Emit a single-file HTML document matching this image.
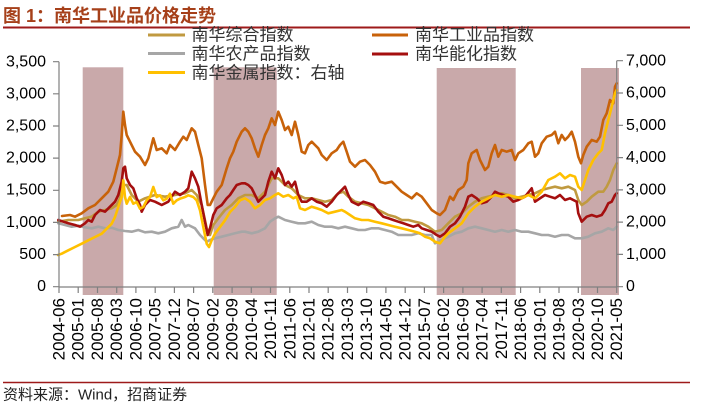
<!DOCTYPE html>
<html><head><meta charset="utf-8"><style>
html,body{margin:0;padding:0;background:#fff;}
svg{display:block;}
</style></head><body>
<svg width="703" height="414" viewBox="0 0 703 414" xmlns="http://www.w3.org/2000/svg" font-family="'Liberation Sans','Noto Sans CJK SC',sans-serif">
<rect x="0" y="0" width="703" height="414" fill="#fff"/>
<text x="3" y="22" font-size="18" font-weight="bold" fill="#a6401a" font-family="'Liberation Sans','Noto Sans CJK SC',sans-serif">图 1：南华工业品价格走势</text>
<line x1="3" y1="27.5" x2="690" y2="27.5" stroke="#9e1a1a" stroke-width="2"/>
<!-- shading -->
<g fill="#c9a9aa">
<rect x="82.7" y="67.3" width="40.6" height="227.7"/>
<rect x="213.7" y="67.3" width="63" height="227.7"/>
<rect x="436.7" y="68" width="79" height="227"/>
<rect x="581" y="68" width="38" height="227"/>
</g>
<!-- series -->
<g fill="none" stroke-width="2.6" stroke-linejoin="round" stroke-linecap="round">
<polyline stroke="#c09a40" points="58.3,221.7 68.3,220 78.3,220 85,218.3 91.7,216.7 98.3,211.7 105,210 111.7,208.3 116.7,205 120,198.3 123.3,185 126.7,185 131.7,195 138.3,201.7 145,198.3 155,195 165,196.7 175,195 185,193.3 191.7,190 196.7,195 201.7,205 206.7,228.3 210,235 213.3,225 218.3,218.3 225,210 231.7,205 238.3,198.3 245,195 251.7,195 258.3,198.3 265,191.7 271.7,178.3 278.3,178.3 285,185 291.7,188.3 298.3,195 305,198.3 311.7,198.3 318.3,200 325,201.7 331.7,200 338.3,193.3 343.3,191.7 348.3,196.7 355,201.7 361.7,203.3 368.3,205 375,208.3 381.7,211.7 388.3,215 395,216.7 401.7,220 408.3,220 415,221.7 421.7,223.3 428.3,226.7 435,231.7 441.7,230 448.3,223.3 455,216.7 461.7,213.3 468.3,206.7 475,201.7 481.7,198.3 488.3,196.7 495,195 501.7,193.3 508.3,195 515,198.3 521.7,196.7 528.3,195 535,193.3 541.7,190 548.3,188.3 555,186.7 561.7,188.3 568.3,186.7 575,190 578.3,200 581.7,205 586.7,201.7 591.7,196.7 598.3,191.7 603.3,191.7 606.7,186.7 610,180 613.3,170 616.7,163.3"/>
<polyline stroke="#c8620a" points="62,216 70,215 75,216.7 81.7,213.3 88.3,208.3 95,205 101.7,198.3 108.3,191.7 113.3,181.7 116.7,168.3 120,155 121.7,135 123.3,111.7 125,125 126.7,135 130,141.7 135,151.7 140,156.7 145,165 148.3,158.3 153.3,138.3 156.7,150 161.7,148.3 166.7,153.3 170,145 175,150 180,141.7 183.3,136.7 186.7,140 191.7,128.3 195,131.7 198.3,145 201.7,158.3 205,185 207.7,205 210,205 213.3,198.3 216.7,191.7 221.7,185 226.7,168.3 230,158.3 233.3,151.7 236.7,141.7 241.7,131.7 245,128.3 248.3,131.7 251.7,138.3 255,148.3 258.3,156.7 261.7,145 265,135 268.3,128.3 271.7,118.3 275,125 278.3,111.7 281.7,120 285,130 288.3,126.7 291.7,135 295,121.7 298.3,135 301.7,151.7 305,153.3 308.3,145 311.7,141.7 315,145 318.3,148.3 321.7,155 326.7,160 331.7,153.3 336.7,150 340,145 343.3,141.7 346.7,151.7 350,161.7 355,166.7 360,161.7 365,160 370,165 375,171.7 380,181.7 385,183.3 391.7,181.7 396.7,186.7 401.7,191.7 406.7,195 411.7,198.3 416.7,193.3 421.7,196.7 426.7,203.3 431.7,210 436.7,213.3 440,215 445,210 450,196.7 453.3,200 458.3,190 463.3,186.7 466.7,180 468.3,163.3 471.7,153.3 476.7,150 480,160 485,170 488.3,166.7 491.7,153.3 495,145 498.3,156.7 501.7,150 506.7,151.7 511.7,150 515,160 518.3,153.3 523.3,150 528.3,143.3 531.7,141.7 535,156.7 538.3,153.3 541.7,143.3 546.7,136.7 551.7,135 555,131.7 558.3,143.3 561.7,135 565,140 568.3,136.7 571.7,131.7 575,141.7 578.3,156.7 581,163.3 583.3,155 586.7,146.7 591.7,140 596.7,141.7 600,136.7 603.3,120 606.7,113.3 610,100 613.3,103.3 615,86.7 616.7,83.3"/>
<polyline stroke="#a6a6a6" points="58.3,223.3 65,225 71.7,226.7 78.3,225.7 85,227.3 91.7,228.3 98.3,226.7 105,228.3 111.7,227.7 118.3,230 125,231 131.7,231.7 138.3,230 145,232.3 151.7,231.7 158.3,233.3 165,231.7 171.7,228.3 178.3,226.7 181.7,220 185,226.7 188.3,225 195,228.3 200,235 203.3,238.3 206.7,241.7 210,240 215,238.3 221.7,236.7 228.3,235 235,233.3 241.7,231.7 245,231.7 251.7,233.3 258.3,231.7 265,228.3 270,221.7 275,218.3 278.3,216.7 285,220 291.7,221.7 298.3,223.3 305,223.3 311.7,221.7 318.3,225 325,226.7 331.7,226.7 338.3,228.3 345,226.7 351.7,228.3 358.3,230 365,230 371.7,228.3 378.3,228.3 385,230 391.7,231.7 398.3,235 405,235 411.7,235 418.3,233.3 425,235 431.7,235 435,243.3 441.7,240 448.3,236.7 455,233.3 461.7,231.7 468.3,228.3 475,226.7 481.7,228.3 488.3,230 495,231.7 501.7,230 508.3,231.7 515,230 521.7,231.7 528.3,231.7 535,233.3 541.7,235 548.3,235 555,236.7 561.7,235 568.3,235 575,238.3 581.7,238.3 588.3,236.7 595,233.3 601.7,231.7 608.3,228.3 613.3,230 616.7,226.7"/>
<polyline stroke="#a50f0f" points="58.3,220 63.3,221.7 68.3,223.3 75,225 80,226.7 85,223.3 88.3,220 91.7,221.7 95,215 100,210 105,211.7 110,206.7 115,201.7 118.3,195 121.7,181.7 123.3,168.3 125,166.7 126.7,178.3 130,185 133.3,188.3 136.7,198.3 140,205 141.7,211.7 145,205 150,200 155,201.7 161.7,205 168.3,201.7 175,191.7 180,195 185,191.7 188.3,188.3 191.7,171.7 195,178.3 198.3,186.7 201.7,205 205,221.7 207.7,235 210,228.3 213.3,215 216.7,208.3 221.7,205 226.7,198.3 230,195 233.3,190 236.7,185 241.7,183.3 245,183.3 248.3,185 251.7,188.3 255,195 258.3,201.7 261.7,198.3 265,195 268.3,181.7 271.7,171.7 275,178.3 278.3,168.3 281.7,175 285,185 288.3,181.7 291.7,186.7 295,181.7 298.3,195 301.7,201.7 306.7,201.7 311.7,198.3 316.7,201.7 321.7,203.3 326.7,206.7 331.7,201.7 336.7,195 341.7,190 345,186.7 348.3,195 351.7,201.7 358.3,205 363.3,201.7 368.3,203.3 373.3,205 378.3,211.7 383.3,216.7 388.3,218.3 393.3,220 398.3,221.7 403.3,223.3 408.3,225 413.3,226.7 418.3,225 421.7,228.3 426.7,230 431.7,231.7 436.7,235 440,236.7 445,233.3 450,226.7 455,223.3 460,216.7 465,206.7 468.3,196.7 471.7,195 476.7,198.3 481.7,203.3 486.7,201.7 491.7,196.7 495,191.7 498.3,193.3 503.3,195 508.3,196.7 513.3,201.7 518.3,200 525,196.7 531.7,188.3 535,201.7 540,198.3 545,195 550,196.7 555,198.3 560,195 565,200 570,198.3 573.3,200 576.7,201.7 578.3,213.3 581.7,221.7 586.7,216.7 591.7,215 596.7,216.7 601.7,215 605,210 608.3,203.3 611.7,201.7 615,195 616.7,193.3"/>
<polyline stroke="#ffc000" points="58,255 61.7,253.7 68.3,250.3 75,247 81.7,243.7 88.3,240.3 95,237 101.7,233.7 106.7,228.7 111.7,223.7 115,217 118.3,207 121.7,197 123.3,180.3 125,197 126.7,203.7 130,197 133.3,203.7 136.7,202 140,208.7 143.3,207 146.7,200.3 150,197 153.3,187 156.7,197 160,195.3 163.3,200.3 166.7,198.7 170,193.7 173.3,203.7 176.7,200.3 180,198.7 185,197 188.3,195.3 193.3,197 196.7,200.3 200,210.3 203.3,227 206.7,243.7 209,247 211.7,240.3 215,233.7 220,227 225,220.3 230,212 235,207 240,200.3 245,198.3 250,201.7 255,208.3 260,205 265,200 270,198.3 275,195 278.3,193.3 283.3,196.7 288.3,195 293.3,198.3 296.7,196.7 300,208.3 305,210 311.7,206.7 316.7,208.3 321.7,210 328.3,213.3 335,211.7 341.7,210 345,211.7 350,215 355,218.3 361.7,220 368.3,220 375,221.7 381.7,223.3 388.3,225 395,226.7 401.7,228.3 408.3,230 415,231.7 420,233.3 425,236.7 430,238.3 435,241.7 440,243.3 445,236.7 448.3,233.3 455,228.3 461.7,223.3 468.3,213.3 475,206.7 481.7,201.7 488.3,198.3 495,195 501.7,196.7 508.3,195 515,196.7 521.7,198.3 528.3,195 535,198.3 541.7,191.7 548.3,180 555,176.7 560,173.3 565,178.3 570,175 575,176.7 578.3,186.7 581.7,190 585,180 588.3,170 593.3,160 598.3,153.3 601.7,150 605,133.3 608.3,120 611.7,106.7 615,93.3 616.7,90"/>
</g>
<!-- axes -->
<g stroke="#808080" stroke-width="1.2" fill="none">
<line x1="59" y1="61.7" x2="59" y2="287"/>
<line x1="616.7" y1="60.7" x2="616.7" y2="287"/>
<line x1="59" y1="287" x2="616.7" y2="287"/>
<path d="M53,61.7H59M53,93.8H59M53,126H59M53,158.1H59M53,190.3H59M53,222.4H59M53,254.6H59M53,286.7H59"/>
<path d="M616.7,60.7H623M616.7,93H623M616.7,125.3H623M616.7,157.6H623M616.7,189.9H623M616.7,222.1H623M616.7,254.4H623M616.7,286.7H623"/>
<path d="M59,287V293M78.2,287V293M97.5,287V293M116.7,287V293M135.9,287V293M155.2,287V293M174.4,287V293M193.6,287V293M212.8,287V293M232.1,287V293M251.3,287V293M270.5,287V293M289.8,287V293M309,287V293M328.2,287V293M347.5,287V293M366.7,287V293M385.9,287V293M405.2,287V293M424.4,287V293M443.6,287V293M462.9,287V293M482.1,287V293M501.3,287V293M520.6,287V293M539.8,287V293M559,287V293M578.3,287V293M597.5,287V293M616.7,287V293"/>
</g>
<!-- left tick labels -->
<g font-size="16" fill="#000" text-anchor="end" dominant-baseline="central">
<text x="46" y="62">3,500</text>
<text x="46" y="94">3,000</text>
<text x="46" y="126">2,500</text>
<text x="46" y="158">2,000</text>
<text x="46" y="190">1,500</text>
<text x="46" y="222.5">1,000</text>
<text x="46" y="254.5">500</text>
<text x="46" y="286.5">0</text>
</g>
<g font-size="16" fill="#000" text-anchor="start" dominant-baseline="central">
<text x="626" y="61">7,000</text>
<text x="626" y="93">6,000</text>
<text x="626" y="125.3">5,000</text>
<text x="626" y="157.6">4,000</text>
<text x="626" y="190">3,000</text>
<text x="626" y="222">2,000</text>
<text x="626" y="254.4">1,000</text>
<text x="626" y="286.5">0</text>
</g>
<!-- x labels -->
<g font-size="17" fill="#000" text-anchor="end" dominant-baseline="central">
<text transform="translate(59,298) rotate(-90)">2004-06</text>
<text transform="translate(78.2,298) rotate(-90)">2005-01</text>
<text transform="translate(97.5,298) rotate(-90)">2005-08</text>
<text transform="translate(116.7,298) rotate(-90)">2006-03</text>
<text transform="translate(135.9,298) rotate(-90)">2006-10</text>
<text transform="translate(155.2,298) rotate(-90)">2007-05</text>
<text transform="translate(174.4,298) rotate(-90)">2007-12</text>
<text transform="translate(193.6,298) rotate(-90)">2008-07</text>
<text transform="translate(212.8,298) rotate(-90)">2009-02</text>
<text transform="translate(232.1,298) rotate(-90)">2009-09</text>
<text transform="translate(251.3,298) rotate(-90)">2010-04</text>
<text transform="translate(270.5,298) rotate(-90)">2010-11</text>
<text transform="translate(289.8,298) rotate(-90)">2011-06</text>
<text transform="translate(309,298) rotate(-90)">2012-01</text>
<text transform="translate(328.2,298) rotate(-90)">2012-08</text>
<text transform="translate(347.5,298) rotate(-90)">2013-03</text>
<text transform="translate(366.7,298) rotate(-90)">2013-10</text>
<text transform="translate(385.9,298) rotate(-90)">2014-05</text>
<text transform="translate(405.2,298) rotate(-90)">2014-12</text>
<text transform="translate(424.4,298) rotate(-90)">2015-07</text>
<text transform="translate(443.6,298) rotate(-90)">2016-02</text>
<text transform="translate(462.9,298) rotate(-90)">2016-09</text>
<text transform="translate(482.1,298) rotate(-90)">2017-04</text>
<text transform="translate(501.3,298) rotate(-90)">2017-11</text>
<text transform="translate(520.6,298) rotate(-90)">2018-06</text>
<text transform="translate(539.8,298) rotate(-90)">2019-01</text>
<text transform="translate(559,298) rotate(-90)">2019-08</text>
<text transform="translate(578.3,298) rotate(-90)">2020-03</text>
<text transform="translate(597.5,298) rotate(-90)">2020-10</text>
<text transform="translate(616.7,298) rotate(-90)">2021-05</text>
</g>
<!-- legend -->
<g stroke-width="3">
<line x1="148" y1="35" x2="185" y2="35" stroke="#c09a40"/>
<line x1="148" y1="53.5" x2="185" y2="53.5" stroke="#a6a6a6"/>
<line x1="148" y1="72.5" x2="185" y2="72.5" stroke="#ffc000"/>
<line x1="372" y1="35" x2="408" y2="35" stroke="#c8620a"/>
<line x1="372" y1="54" x2="408" y2="54" stroke="#a50f0f"/>
</g>
<g font-size="17" fill="#333" dominant-baseline="central" font-family="'Liberation Sans','Noto Sans CJK SC',sans-serif">
<text x="191.5" y="35">南华综合指数</text>
<text x="191.5" y="54">南华农产品指数</text>
<text x="191.5" y="73">南华金属指数：右轴</text>
<text x="415" y="35">南华工业品指数</text>
<text x="415" y="54">南华能化指数</text>
</g>
<line x1="3" y1="382.5" x2="690" y2="382.5" stroke="#9e1a1a" stroke-width="1.6"/>
<text x="3" y="395" font-size="15" fill="#222" dominant-baseline="central" font-family="'Liberation Sans','Noto Sans CJK SC',sans-serif">资料来源：Wind，招商证券</text>
</svg>
</body></html>
